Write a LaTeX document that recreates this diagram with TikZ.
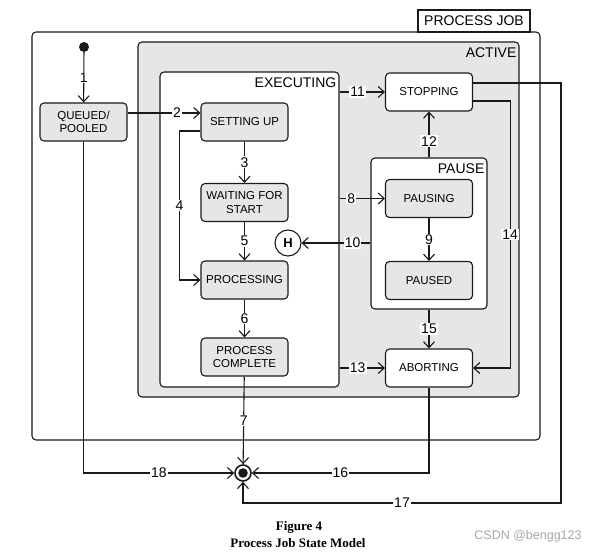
\documentclass[tikz,border=0pt]{standalone}
\usepackage{fontspec}
\setmainfont{Liberation Sans}
\newfontfamily\capfont{Liberation Serif}
\usetikzlibrary{arrows.meta}
\definecolor{actgray}{HTML}{E6E6E6}
\definecolor{stgray}{HTML}{E6E6E6}
\definecolor{ink}{HTML}{1A1A1A}
\tikzset{
  cont/.style={draw=ink, line width=1.1pt, rounded corners=4pt, inner sep=0pt},
  hdr/.style={inner sep=1pt, font=\fontsize{14}{16}\selectfont},
  state/.style={draw=ink, line width=1.1pt, rounded corners=4pt, minimum width=87pt, minimum height=38pt, inner sep=0pt, align=center, font=\fontsize{11.5}{13.5}\selectfont},
  arr/.style={draw=ink, line width=1.1pt, -{Straight Barb[length=6pt,width=11pt,line width=1.1pt]}},
  lbl/.style={fill=white, inner sep=1pt, font=\fontsize{14}{16}\selectfont}
}
\begin{document}
\begin{tikzpicture}[x=1pt,y=-1pt]
\useasboundingbox (0,0) rectangle (599,553);
% containers
\node[cont, minimum width=508pt, minimum height=408pt] (pjob) at (286,236) {};
\node[draw=ink, line width=1.1pt, fill=white, minimum width=112pt, minimum height=22pt, inner sep=0pt, font=\fontsize{14}{16}\selectfont] (pjoblbl) at (474,21) {PROCESS JOB};
\node[cont, fill=actgray, minimum width=381pt, minimum height=355pt] (active) at (328.5,219.5) {};
\node[hdr, anchor=north east] (activelbl) at ([xshift=-2pt,yshift=-5pt]active.north east) {ACTIVE};
\node[cont, fill=white, minimum width=179pt, minimum height=315pt] (executing) at (249.5,229.5) {};
\node[hdr, anchor=north east] (execlbl) at ([xshift=-2pt,yshift=-5pt]executing.north east) {EXECUTING};
\node[cont, fill=white, minimum width=116pt, minimum height=151pt] (pause) at (429,233.5) {};
\node[hdr, anchor=north east] (pauselbl) at ([xshift=-2pt,yshift=-5pt]pause.north east) {PAUSE};
% states
\node[circle, fill=ink, minimum size=10pt, inner sep=0pt] (init) at (84,47) {};
\node[state, fill=stgray] (queued) at (83.5,122) {QUEUED/\\POOLED};
\node[state, fill=stgray] (setup) at (244.5,122) {SETTING UP};
\node[state, fill=stgray] (wait) at (244.5,202.5) {WAITING FOR\\START};
\node[state, fill=stgray] (processing) at (244.5,280) {PROCESSING};
\node[state, fill=stgray] (complete) at (244.5,357) {PROCESS\\COMPLETE};
\node[state, fill=white] (stopping) at (429,92) {STOPPING};
\node[state, fill=stgray] (pausing) at (429,198.5) {PAUSING};
\node[state, fill=stgray] (paused) at (429,280.5) {PAUSED};
\node[state, fill=white] (aborting) at (429,368) {ABORTING};
\node[circle, draw=ink, line width=1.1pt, fill=white, minimum size=26pt, inner sep=0pt, font=\bfseries\fontsize{13}{15}\selectfont] (H) at (288,243) {H};
\node[circle, draw=ink, line width=1.6pt, fill=white, minimum size=16pt, inner sep=0pt,
  path picture={\fill[ink] (path picture bounding box.center) circle (4.8pt);}] (final) at (243,473) {};
% transitions
\draw[arr] (init) -- node[lbl]{1} (queued);
\draw[arr] ([yshift=9pt]queued.east) -- node[lbl, pos=0.68]{2} ([yshift=9pt]setup.west);
\draw[arr] (setup) -- node[lbl]{3} (wait);
\draw[arr] ([yshift=-9pt]setup.west) -- ++(-21,0) |- node[lbl, pos=0.25]{4} (processing.west);
\draw[arr] (wait) -- node[lbl]{5} (processing);
\draw[arr] (processing) -- node[lbl]{6} (complete);
\draw[arr] (complete) -- node[lbl]{7} (final);
\draw[arr] (executing.east |- pausing) -- node[lbl, pos=0.26]{8} (pausing.west);
\draw[arr] (pausing) -- node[lbl]{9} (paused);
\draw[arr] (pause.west |- H) -- node[lbl, pos=0.26]{10} (H.east);
\draw[arr] (executing.east |- stopping) -- node[lbl, pos=0.4]{11} (stopping.west);
\draw[arr] (pause.north) -- node[lbl, pos=0.35]{12} (stopping.south);
\draw[arr] (executing.east |- aborting) -- node[lbl, pos=0.4]{13} (aborting.west);
\draw[arr] ([yshift=-9pt]stopping.east) -- ++(37,0) |- node[lbl, pos=0.25]{14} (aborting.east);
\draw[arr] (pause.south) -- node[lbl]{15} (aborting.north);
\draw[arr] (aborting.south) |- node[lbl, pos=0.75]{16} (final.east);
\draw[arr] ([yshift=9pt]stopping.east) -| (561,503) -| node[lbl, pos=0.25]{17} (final.south);
\draw[arr] (queued.south) |- node[lbl, pos=0.75]{18} (final.west);
% caption
\node[font=\capfont\bfseries\fontsize{13}{15}\selectfont, inner sep=0pt] (cap1) at (299,527) {Figure 4};
\node[font=\capfont\bfseries\fontsize{13}{15}\selectfont, inner sep=0pt] (cap2) at (298,543) {Process Job State Model};
\node[font=\fontsize{12.5}{14}\selectfont, text=black!35, inner sep=0pt] (wm) at (528,536) {CSDN @bengg123};
\end{tikzpicture}
\end{document}
